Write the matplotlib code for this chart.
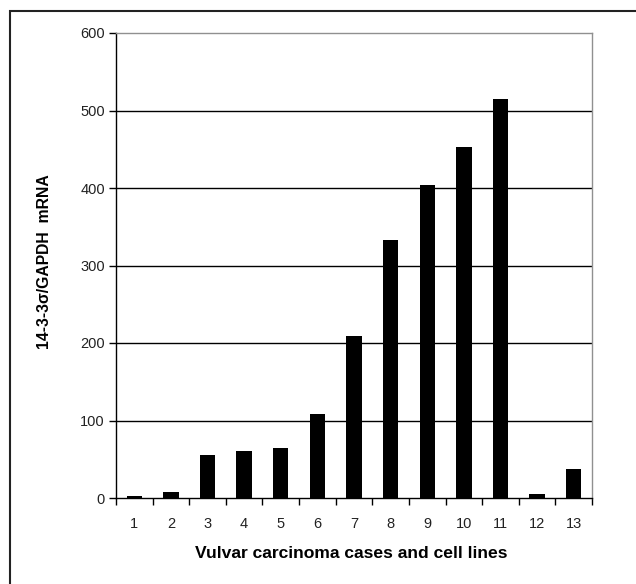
import matplotlib
matplotlib.use("Agg")
import matplotlib.pyplot as plt
from matplotlib.patches import Rectangle

plt.rcParams["font.family"] = ["Liberation Sans", "DejaVu Sans"]

# data
cases = list(range(1, 14))
ratio = [2, 8, 55, 61, 64, 109, 209, 333, 404, 453, 515, 5, 38]
yticks = [0, 100, 200, 300, 400, 500, 600]

fig = plt.figure(figsize=(6.36, 5.84), dpi=100)
ax = fig.add_axes([116 / 636, 1 - 498 / 584, (592 - 116) / 636, (498 - 33) / 584])

# outer frame (right and bottom edges fall outside the picture)
fig.patches.append(Rectangle((10 / 636, -0.1), 1.2, 1.1 - 11 / 584,
                             transform=fig.transFigure, fill=False,
                             edgecolor="#222222", linewidth=1.5))

for v in yticks[1:-1]:
    ax.axhline(v, color="black", linewidth=1.0, zorder=1)

ax.bar(cases, ratio, width=0.42, color="black", zorder=2)

ax.set_xlim(0.5, 13.5)
ax.set_ylim(0, 600)
ax.set_yticks(yticks)
ax.set_yticklabels([str(v) for v in yticks], fontsize=10.5, color="#222222")

# ticks between categories, labels under the bars
ax.set_xticks([i + 0.5 for i in range(0, 14)])
ax.set_xticklabels([])
ax.set_xticks(cases, minor=True)
ax.set_xticklabels([str(c) for c in cases], minor=True, fontsize=10.5, color="#222222")
ax.tick_params(axis="x", which="minor", length=0, pad=14)
ax.tick_params(axis="x", which="major", length=5, width=1.0, direction="out")
ax.tick_params(axis="y", length=5, width=1.0, direction="out", pad=3)

for side in ["left", "bottom"]:
    ax.spines[side].set_color("black")
    ax.spines[side].set_linewidth(1.0)
for side in ["top", "right"]:
    ax.spines[side].set_color("#909090")
    ax.spines[side].set_linewidth(1.0)

ax.set_xlabel("Vulvar carcinoma cases and cell lines", fontsize=12.6,
              fontweight="bold", va="center")
ax.xaxis.set_label_coords((351 - 116) / 476, (498 - 553) / 465)
ax.set_ylabel("14-3-3σ/GAPDH  mRNA", fontsize=11.3, fontweight="bold", va="center")
ax.yaxis.set_label_coords((45 - 116) / 476, (498 - 262) / 465)

fig.savefig("out.png", dpi=100)
